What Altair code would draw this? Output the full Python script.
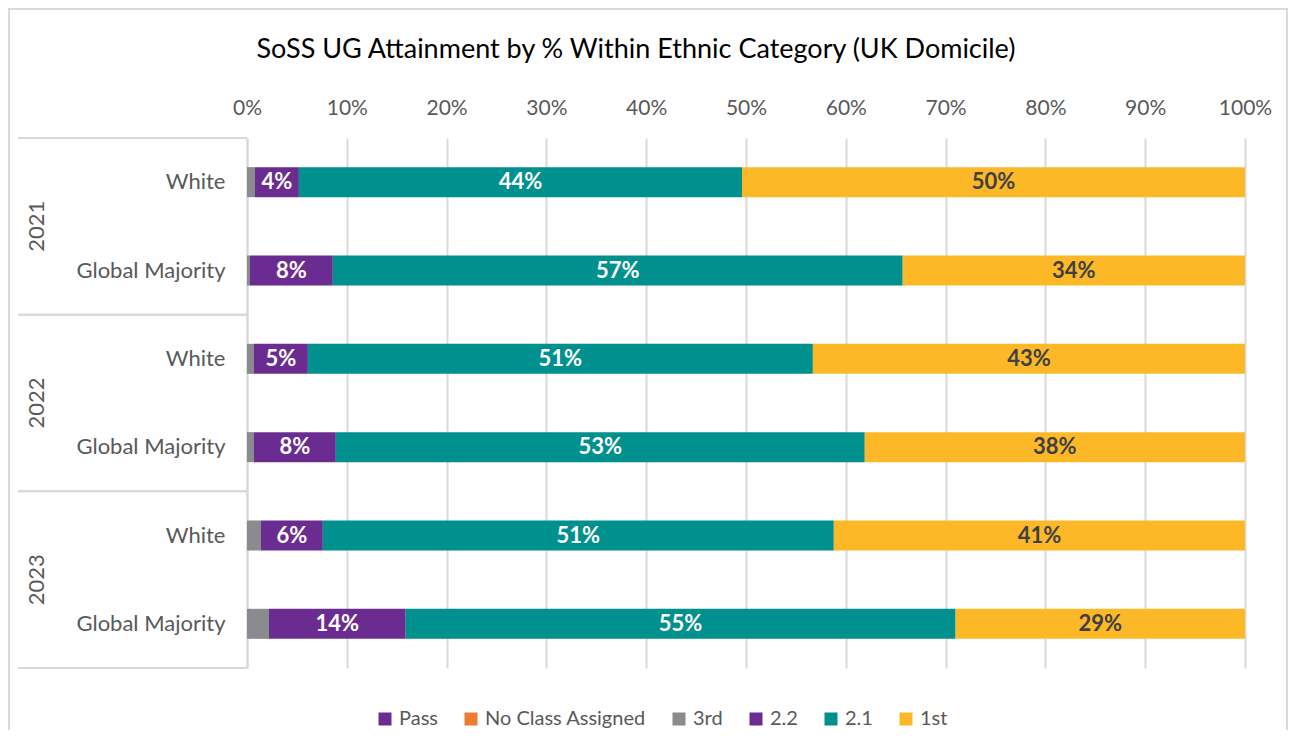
import altair as alt
import pandas as pd

# ---- data ----
years = ["2021", "2021", "2022", "2022", "2023", "2023"]
groups = ["White", "Global Majority", "White", "Global Majority", "White", "Global Majority"]
classes = ["Pass", "No Class Assigned", "3rd", "2.2", "2.1", "1st"]
colors = ["#6B2C91", "#ED7D31", "#898B8E", "#6B2C91", "#00908E", "#FDB827"]
pass_vals = [0, 0, 0, 0, 0, 0]
nca_vals = [0, 0, 0, 0, 0, 0]
third_vals = [0.8, 0.3, 0.7, 0.7, 1.4, 2.2]
two_two_vals = [4.4, 8.3, 5.4, 8.2, 6.2, 13.7]
two_one_vals = [44.4, 57.1, 50.6, 53.0, 51.2, 55.1]
first_vals = [50.4, 34.3, 43.3, 38.1, 41.2, 29.0]
year_list = ["2021", "2022", "2023"]
tick_values = [0, 10, 20, 30, 40, 50, 60, 70, 80, 90, 100]
title_text = ["SoSS UG Attainment by % Within Ethnic Category (UK Domicile)"]

series = [pass_vals, nca_vals, third_vals, two_two_vals, two_one_vals, first_vals]
rows = [f"{y}|{g}" for y, g in zip(years, groups)]
records = []
for i, r in enumerate(rows):
    for k, c in enumerate(classes):
        records.append({"row": r, "cls": c, "value": series[k][i], "order": k})
df = pd.DataFrame(records)
df_years = pd.DataFrame({"year": year_list})
df_title = pd.DataFrame({"t": title_text})

FONT = "Lato"
GRAY_TXT = "#595959"
LINE = "#D9D9D9"
FS = 21

y_rows = alt.Y(
    "row:N",
    sort=rows,
    scale=alt.Scale(paddingInner=0.66, paddingOuter=0.33),
    axis=alt.Axis(
        title=None,
        labelExpr="split(datum.label, '|')[1]",
        labelFontSize=22,
        labelColor=GRAY_TXT,
        labelFont=FONT,
        labelPadding=22,
        labelLimit=0,
        ticks=False,
        domainColor=LINE,
        domainWidth=2,
    ),
)

x_scale = alt.Scale(domain=[0, 100], nice=False)

bars = alt.Chart(df).mark_bar().encode(
    x=alt.X(
        "value:Q",
        stack="zero",
        scale=x_scale,
        axis=alt.Axis(
            orient="top",
            title=None,
            values=tick_values,
            labelExpr="datum.value + '%'",
            labelFontSize=FS,
            labelColor=GRAY_TXT,
            labelFont=FONT,
            labelPadding=20,
            labelFlush=False,
            ticks=False,
            domain=False,
            gridColor=LINE,
            gridWidth=2,
        ),
    ),
    y=y_rows,
    color=alt.Color(
        "cls:N",
        scale=alt.Scale(domain=classes, range=colors),
        legend=alt.Legend(
            title=None,
            orient="none",
            direction="horizontal",
            legendX=128,
            legendY=571,
            symbolType="square",
            symbolSize=169,
            symbolStrokeWidth=0,
            labelFontSize=20,
            labelColor=GRAY_TXT,
            labelFont=FONT,
            labelLimit=0,
            columnPadding=23,
            labelOffset=4,
        ),
    ),
    order=alt.Order("order:Q"),
)

labels = (
    alt.Chart(df)
    .transform_stack(stack="value", groupby=["row"], as_=["x0", "x1"], sort=[alt.SortField("order")])
    .transform_calculate(mid="(datum.x0 + datum.x1) / 2", lbl="format(datum.value, '.0f') + '%'")
    .transform_filter(alt.FieldOneOfPredicate(field="cls", oneOf=["2.2", "2.1", "1st"]))
    .mark_text(font=FONT, fontSize=22, fontWeight="bold", baseline="middle", align="center")
    .encode(
        x=alt.X("mid:Q", scale=x_scale),
        y=y_rows,
        text="lbl:N",
        color=alt.condition(alt.datum.cls == "1st", alt.value("#404040"), alt.value("white")),
    )
)

year_scale = alt.Scale(type="band", paddingInner=0, paddingOuter=0)

year_text = alt.Chart(df_years).mark_text(
    font=FONT, fontSize=22, color=GRAY_TXT, angle=270, align="center", baseline="middle"
).encode(
    x=alt.value(-210),
    y=alt.Y("year:N", scale=year_scale, axis=None),
    text="year:N",
)

sep_top = alt.Chart(df_years).mark_rule(color=LINE, strokeWidth=2).encode(
    x=alt.value(-229),
    x2=alt.value(0),
    y=alt.Y("year:N", scale=year_scale, axis=None, bandPosition=0),
)
sep_bottom = alt.Chart(df_years).mark_rule(color=LINE, strokeWidth=2).encode(
    x=alt.value(-229),
    x2=alt.value(0),
    y=alt.Y("year:N", scale=year_scale, axis=None, bandPosition=1),
)

border = alt.Chart(df_years).mark_rect(filled=False, stroke=LINE, strokeWidth=2).encode(
    x=alt.value(-238),
    x2=alt.value(1040),
    y=alt.value(-129),
    y2=alt.value(700),
)

title = alt.Chart(df_title).mark_text(
    font=FONT, fontSize=27, color="#000000", align="center", baseline="middle"
).encode(
    x=alt.value(389),
    y=alt.value(-88),
    text="t:N",
)

main = alt.layer(bars, labels)
side = alt.layer(year_text, sep_top, sep_bottom, border, title)

chart = (
    alt.layer(main, side)
    .resolve_scale(y="independent")
    .properties(
        width=998,
        height=530,
        autosize=alt.AutoSizeParams(type="none"),
        padding={"left": 239, "top": 130, "right": 43, "bottom": 62},
    )
    .configure_view(stroke=None)
)

chart.save("out.html", embed_options={"renderer": "svg", "actions": False})
